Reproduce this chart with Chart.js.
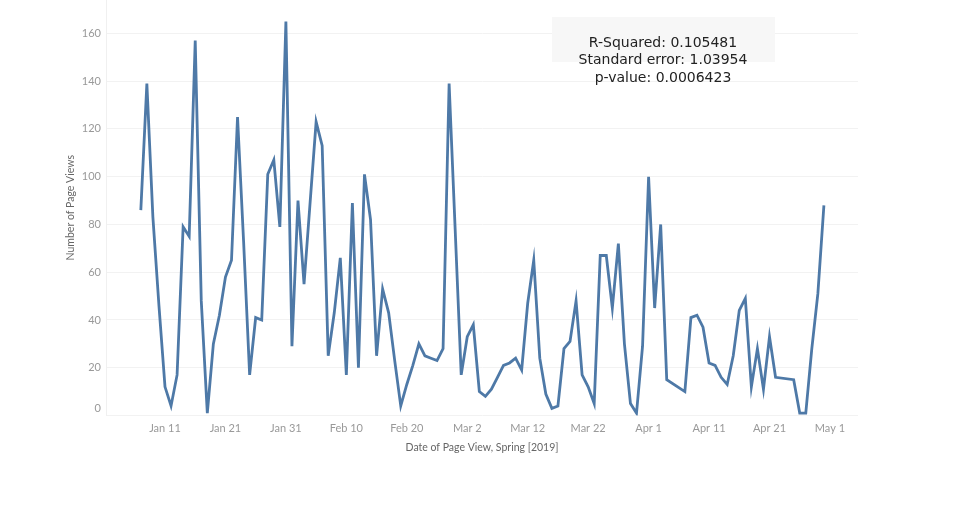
<!DOCTYPE html>
<html>
<head>
<meta charset="utf-8">
<script src="https://cdn.jsdelivr.net/npm/chart.js@4.4.1/dist/chart.umd.min.js"></script>
<style>
  html, body { margin: 0; padding: 0; background: #fff; }
</style>
</head>
<body>
<canvas id="graficoLinha" width="967" height="507"></canvas>
<script>
// day number counted from Jan 1 2019 (0 = Jan 1, 10 = Jan 11 ...)
const dias = [
  6, 7, 8, 9, 10, 11, 12, 13, 14, 15, 16, 17, 18, 19, 20, 21, 22, 23, 24, 25,
  26, 27, 28, 29, 30, 31, 32, 33, 34, 35, 36, 37, 38, 39, 40, 41, 42, 43, 44, 45,
  46, 47, 48, 49, 50, 51, 52, 53, 54, 55, 56, 57, 58, 59, 60, 61, 62, 63, 64, 65,
  66, 67, 68, 69, 70, 71, 72, 73, 74, 75, 76, 77, 78, 79, 80, 81, 82, 83, 84, 85,
  86, 87, 88, 89, 90, 91, 92, 93, 96, 97, 98, 99, 100, 101, 102, 103, 104, 105, 106, 107,
  108, 109, 110, 111, 114, 115, 116, 117, 118, 119
];
const visitas = [
  86, 139, 83, 46, 12, 4, 17, 79, 75, 157, 48, 1, 30, 42, 58, 65, 125, 73, 17, 41,
  40, 101, 107, 79, 165, 29, 90, 55, 89, 123, 113, 25, 43, 66, 17, 89, 20, 101, 82, 25,
  53, 43, 23, 4, 13, 21, 30, 25, 24, 23, 28, 139, 78, 17, 33, 38, 10, 8, 11, 16,
  21, 22, 24, 19, 47, 65, 24, 9, 3, 4, 28, 31, 48, 17, 12, 5, 67, 67, 45, 72,
  30, 5, 1, 29, 100, 45, 80, 15, 10, 41, 42, 37, 22, 21, 16, 13, 25, 44, 49, 12,
  28, 11, 33, 16, 15, 1, 1, 28, 51, 88
];
const yTicks = [0, 20, 40, 60, 80, 100, 120, 140, 160];
const xTicks = [10, 20, 30, 40, 50, 60, 70, 80, 90, 100, 110, 120];
const estatisticas = [
  "R-Squared: 0.105481",
  "Standard error: 1.03954",
  "p-value: 0.0006423"
];

const meses = ["Jan", "Feb", "Mar", "Apr", "May", "Jun"];

function rotuloData(dia) {
  const d = new Date(2019, 0, 1 + dia);
  return meses[d.getMonth()] + " " + d.getDate();
}

const caixaEstatisticas = {
  id: "caixaEstatisticas",
  beforeDatasetsDraw: (chart) => {
    const ctx = chart.ctx;
    ctx.save();
    ctx.fillStyle = "#f7f7f7";
    ctx.fillRect(552, 17, 223, 45);
    ctx.restore();
  },
  afterDraw: (chart) => {
    const ctx = chart.ctx;
    ctx.save();
    ctx.fillStyle = "#222";
    ctx.font = "14px 'DejaVu Sans'";
    ctx.textAlign = "center";
    ctx.textBaseline = "middle";
    estatisticas.forEach((linha, i) => {
      ctx.fillText(linha, 663, 43 + i * 17.8);
    });
    // the zero label sits a bit above its gridline, as in the original
    ctx.fillStyle = "#999";
    ctx.font = "11px Lato";
    ctx.textAlign = "right";
    ctx.fillText("0", 101, chart.scales.y.getPixelForValue(0) - 7);
    ctx.restore();
  }
};

document.addEventListener("DOMContentLoaded", function () {
  const grafico = document.getElementById("graficoLinha");

  new Chart(grafico, {
    type: "line",
    plugins: [caixaEstatisticas],
    data: {
      datasets: [
        {
          label: "Number of Page Views",
          data: dias.map((d, i) => ({ x: d, y: visitas[i] })),
          borderColor: "#4e79a7",
          borderWidth: 2.8,
          pointRadius: 0,
          tension: 0,
          fill: false,
        },
      ],
    },
    options: {
      responsive: false,
      animation: false,
      layout: { padding: { left: 0, right: 109, top: 0, bottom: 0 } },
      plugins: {
        legend: { display: false },
        tooltip: { enabled: false },
      },
      scales: {
        x: {
          type: "linear",
          min: 0.24,
          max: 124.64,
          afterBuildTicks: (scale) => {
            scale.ticks = xTicks.map((v) => ({ value: v }));
          },
          afterFit: (scale) => {
            scale.height = 91.5;
            scale.paddingLeft = 0;
            scale.paddingRight = 0;
          },
          grid: { display: false, drawTicks: false },
          border: { display: false },
          ticks: {
            padding: 6,
            color: "#999",
            font: { family: "Lato", size: 11 },
            maxRotation: 0,
            autoSkip: false,
            callback: (v) => rotuloData(v),
          },
          title: {
            display: true,
            text: "Date of Page View, Spring [2019]",
            color: "#666",
            font: { family: "Lato", size: 10.5 },
            padding: { top: 0, bottom: 53 },
          },
        },
        y: {
          min: 0,
          max: 174,
          afterBuildTicks: (scale) => {
            scale.ticks = yTicks.map((v) => ({ value: v }));
          },
          afterFit: (scale) => {
            scale.width = 106;
            scale.paddingTop = 0;
            scale.paddingBottom = 0;
          },
          grid: { color: "#f2f2f2", lineWidth: 1, drawTicks: false },
          border: { display: true, color: "#f0f0f0" },
          ticks: {
            padding: 5,
            color: "#999",
            font: { family: "Lato", size: 11 },
            callback: (v) => (v === 0 ? "" : v),
          },
          title: {
            display: true,
            text: "Number of Page Views",
            color: "#666",
            font: { family: "Lato", size: 10.5 },
            padding: { top: 64, bottom: 0 },
          },
        },
      },
    },
  });
});
</script>
</body>
</html>
